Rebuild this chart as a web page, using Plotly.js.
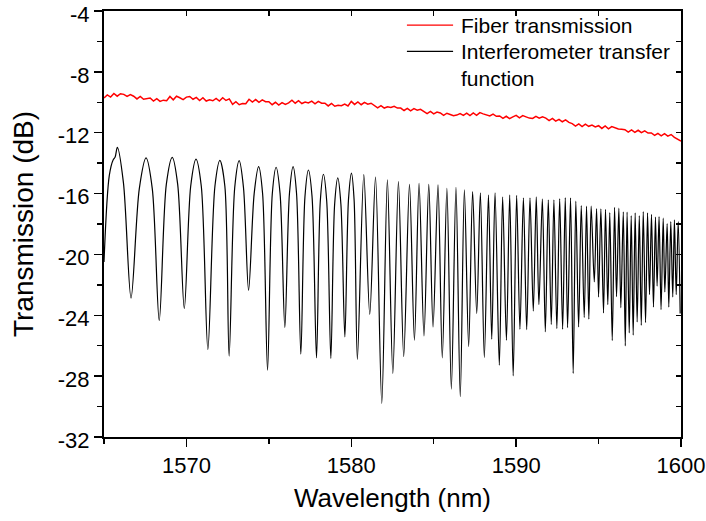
<!DOCTYPE html>
<html>
<head>
<meta charset="utf-8">
<script src="https://cdn.plot.ly/plotly-3.0.1.min.js"></script>
<style>html,body{margin:0;padding:0;background:#fff;}#chart{width:706px;height:521px;}</style>
</head>
<body>
<div id="chart"></div>
<script>
// Fiber transmission: sampled every 0.2 nm from 1565.0 nm
const fiberStart = 1565.0;
const fiberStep = 0.2;
const fiberDb = [
-9.72,-9.52,-9.66,
-9.42,-9.60,-9.44,-9.48,-9.62,-9.50,
-9.60,-9.78,-9.62,-9.80,-9.76,
-9.72,-9.92,-9.76,-9.94,-9.86,-9.90,
-9.62,-9.84,-9.60,-9.70,-9.82,-9.66,-9.62,-9.80,-9.68,-9.88,
-9.70,-9.92,-9.84,-9.90,-9.74,-9.92,-9.70,-9.88,-9.78,
-10.14,-9.96,-10.16,-10.08,-10.10,
-9.80,-9.98,-9.82,-10.00,-9.84,-9.96,
-9.96,-10.16,-10.00,-10.18,-10.02,-10.14,-10.04,
-9.86,-10.06,-9.90,-10.08,-9.98,-10.04,-9.92,-10.10,-9.94,-10.06,
-10.06,-10.24,-10.08,-10.26,-10.20,-10.22,-10.12,-10.24,
-9.94,-10.14,-9.98,-10.16,-10.00,-10.12,-10.06,
-10.20,-10.36,-10.22,-10.38,-10.30,-10.34,-10.26,-10.38,
-10.38,-10.54,-10.40,-10.56,-10.42,-10.52,-10.46,
-10.58,-10.74,-10.60,-10.76,-10.64,
-10.70,-10.86,-10.72,-10.80,-10.88,-10.84,-10.74,-10.86,
-10.72,-10.88,-10.70,-10.86,-10.68,-10.76,-10.84,-10.90,-10.78,-10.92,
-10.90,-11.06,-10.92,-11.08,-10.96,
-10.86,-11.02,-10.88,-10.96,-11.04,-11.06,-10.92,-11.04,-10.96,
-11.04,-11.20,-11.06,-11.24,-11.12,-11.28,-11.16,-11.32,
-11.40,-11.56,-11.42,-11.60,-11.44,-11.58,-11.50,-11.62,
-11.54,-11.72,-11.56,-11.74,-11.60,-11.68,-11.76,-11.78,
-11.80,-11.96,-11.82,-11.98,-11.84,-12.00,-11.88,-12.02,
-12.02,-12.18,-12.04,-12.20,-12.06,-12.22,-12.12,
-12.30,-12.44,-12.56
];

// Interferometer transfer function: fringe maxima, flanks and minima
const interfWl = [
1565.00,1565.32,1565.56,1565.67,1565.81,1566.18,1566.64,1567.14,1567.55,1567.93,
1568.35,1568.78,1569.14,1569.47,1569.87,1570.26,1570.58,1570.90,1571.30,1571.73,
1572.03,1572.33,1572.59,1572.93,1573.20,1573.46,1573.77,1574.11,1574.38,1574.62,
1574.92,1575.21,1575.44,1575.68,1575.97,1576.25,1576.47,1576.68,1576.94,1577.19,
1577.40,1577.62,1577.89,1578.12,1578.31,1578.51,1578.76,1578.99,1579.18,1579.37,
1579.61,1579.83,1580.01,1580.17,1580.37,
1580.76,1581.12,1581.47,1581.85,1582.19,1582.52,1582.86,1583.18,1583.53,1583.83,
1584.11,1584.41,1584.70,1584.96,1585.26,1585.52,1585.80,1586.07,1586.35,1586.61,
1586.86,1587.12,1587.36,1587.61,1587.83,1588.07,1588.32,1588.52,1588.72,1588.98,
1589.18,1589.41,1589.61,1589.82,1590.03,1590.23,1590.44,1590.64,1590.84,1591.04,
1591.22,1591.38,1591.59,1591.77,1591.95,1592.13,1592.29,1592.47,1592.64,1592.82,
1592.98,1593.12,1593.30,1593.46,1593.62,1593.79,1593.95,1594.13,1594.27,1594.41,
1594.55,1594.74,1594.88,1595.00,1595.14,1595.30,1595.42,1595.56,1595.68,1595.83,
1595.97,1596.09,1596.23,1596.35,1596.50,1596.62,1596.73,1596.86,1596.98,1597.10,
1597.22,1597.34,1597.47,1597.59,1597.71,1597.85,1597.97,1598.09,1598.21,1598.33,
1598.45,1598.55,1598.67,1598.79,1598.92,1599.02,1599.16,1599.26,1599.38,1599.50,
1599.60,1599.71,1599.83,1599.95
];
const interfDb = [
-20.50,-14.82,-13.77,-13.62,-12.96,-15.30,-22.87,-15.69,-13.66,-15.69,
-24.35,-15.40,-13.62,-15.40,-23.56,-15.50,-13.73,-15.50,-26.25,-15.50,
-13.82,-15.50,-26.69,-15.60,-13.84,-15.60,-22.36,-16.00,-14.23,-16.00,
-27.61,-16.00,-14.27,-16.00,-24.81,-16.00,-14.23,-16.00,-26.56,-16.20,
-14.45,-16.20,-26.80,-16.50,-14.73,-16.50,-26.84,-16.70,-14.97,-16.70,
-25.42,-16.40,-14.65,-16.40,-26.89,
-14.75,-23.95,-14.91,-29.79,-15.10,-27.82,-15.21,-26.71,-15.39,-25.64,
-15.32,-25.36,-15.39,-24.77,-15.43,-26.80,-15.65,-28.85,-15.59,-29.35,
-15.76,-26.05,-15.87,-23.89,-15.95,-26.77,-16.09,-25.57,-15.95,-27.28,
-16.22,-25.64,-16.09,-27.98,-16.11,-24.92,-16.28,-24.94,-16.28,-23.72,
-16.22,-23.30,-16.35,-25.09,-16.41,-24.61,-16.41,-24.87,-16.33,-24.92,
-16.26,-24.81,-16.28,-27.82,-16.50,-24.77,-16.79,-24.15,-16.83,-24.26,
-16.83,-21.81,-16.98,-22.80,-17.00,-23.85,-17.03,-23.30,-17.25,-25.66,
-16.90,-22.78,-16.96,-23.50,-17.20,-26.01,-17.22,-25.16,-17.44,-25.31,
-17.27,-24.44,-17.44,-24.66,-17.18,-24.48,-17.27,-22.64,-17.36,-23.46,
-17.55,-22.08,-17.51,-23.63,-17.62,-22.47,-17.97,-23.46,-17.84,-22.80,
-17.72,-22.64,-17.84,-23.89
];

const xTickVals = [1570, 1580, 1590, 1600];
const xTickText = ["1570", "1580", "1590", "1600"];
const yTickVals = [-32, -28, -24, -20, -16, -12, -8, -4];
const yTickText = ["-32", "-28", "-24", "-20", "-16", "-12", "-8", "-4"];
const seriesNames = ["Fiber transmission", "Interferometer transfer<br>function"];
const seriesColors = ["#ff0000", "#000000"];

const fiberWl = fiberDb.map((_, i) => +(fiberStart + i * fiberStep).toFixed(2));

const FONT = "Liberation Sans, Arial, Helvetica, sans-serif";

const traces = [
  {
    x: fiberWl, y: fiberDb, type: "scatter", mode: "lines",
    name: seriesNames[0], showlegend: false,
    line: {color: seriesColors[0], width: 1.5}
  },
  {
    x: interfWl, y: interfDb, type: "scatter", mode: "lines",
    name: seriesNames[1], showlegend: false,
    line: {color: seriesColors[1], width: 1.2, shape: "spline", smoothing: 0.9}
  },
  {
    x: [], y: [], xaxis: "x2", yaxis: "y2", type: "scatter", mode: "lines",
    showlegend: false, hoverinfo: "skip"
  }
];

// legend drawn in paper coordinates
const legX0 = 0.525, legX1 = 0.605, legTextX = 0.615;
const legY = [0.967, 0.905];

const layout = {
  width: 706, height: 521,
  margin: {l: 104, r: 25, t: 11, b: 84},
  paper_bgcolor: "#ffffff", plot_bgcolor: "#ffffff",
  font: {family: FONT, color: "#000", size: 22},
  showlegend: false,
  shapes: [
    {type: "line", xref: "paper", yref: "paper", x0: legX0, x1: legX1, y0: legY[0], y1: legY[0],
     line: {color: seriesColors[0], width: 1.2}},
    {type: "line", xref: "paper", yref: "paper", x0: legX0, x1: legX1, y0: legY[1], y1: legY[1],
     line: {color: seriesColors[1], width: 1.2}}
  ],
  annotations: [
    {xref: "paper", yref: "paper", x: legTextX, y: legY[0], xanchor: "left", yanchor: "middle",
     text: seriesNames[0], showarrow: false, align: "left",
     font: {family: FONT, size: 21, color: "#000"}},
    {xref: "paper", yref: "paper", x: legTextX, y: 0.937, xanchor: "left", yanchor: "top",
     text: seriesNames[1], showarrow: false, align: "left",
     font: {family: FONT, size: 21, color: "#000"}}
  ],
  xaxis: {
    range: [1565, 1600], tickmode: "array", tickvals: xTickVals, ticktext: xTickText,
    ticks: "outside", ticklen: 8, tickwidth: 1.5, tickcolor: "#000",
    showline: true, linecolor: "#000", linewidth: 2,
    showgrid: false, zeroline: false, ticklabeloverflow: "allow",
    tickfont: {family: FONT, size: 22, color: "#000"},
    minor: {dtick: 5, tick0: 1565, ticks: "outside", ticklen: 5, tickwidth: 1.5, tickcolor: "#000", showgrid: false},
    title: {text: "Wavelength (nm)", font: {family: FONT, size: 26, color: "#000"}, standoff: 11}
  },
  yaxis: {
    range: [-32, -4], tickmode: "array", tickvals: yTickVals, ticktext: yTickText,
    ticks: "outside", ticklen: 8, tickwidth: 1.5, tickcolor: "#000",
    showline: true, linecolor: "#000", linewidth: 2,
    showgrid: false, zeroline: false, ticklabeloverflow: "allow",
    ticklabelshift: 3,
    tickfont: {family: FONT, size: 22, color: "#000"},
    minor: {dtick: 2, tick0: -32, ticks: "outside", ticklen: 5, tickwidth: 1.5, tickcolor: "#000", showgrid: false},
    title: {text: "Transmission (dB)", font: {family: FONT, size: 28, color: "#000"}, standoff: 16}
  },
  xaxis2: {
    overlaying: "x", side: "top", anchor: "y2", range: [1565, 1600],
    dtick: 5, tick0: 1565, ticks: "inside", ticklen: 5, tickwidth: 1.5, tickcolor: "#000",
    showticklabels: false, showline: true, linecolor: "#000", linewidth: 2,
    showgrid: false, zeroline: false
  },
  yaxis2: {
    overlaying: "y", side: "right", anchor: "x2", range: [-32, -4],
    dtick: 2, tick0: -32, ticks: "inside", ticklen: 5, tickwidth: 1.5, tickcolor: "#000",
    showticklabels: false, showline: true, linecolor: "#000", linewidth: 2,
    showgrid: false, zeroline: false
  }
};

Plotly.newPlot("chart", traces, layout, {displayModeBar: false, staticPlot: true});
</script>
</body>
</html>
